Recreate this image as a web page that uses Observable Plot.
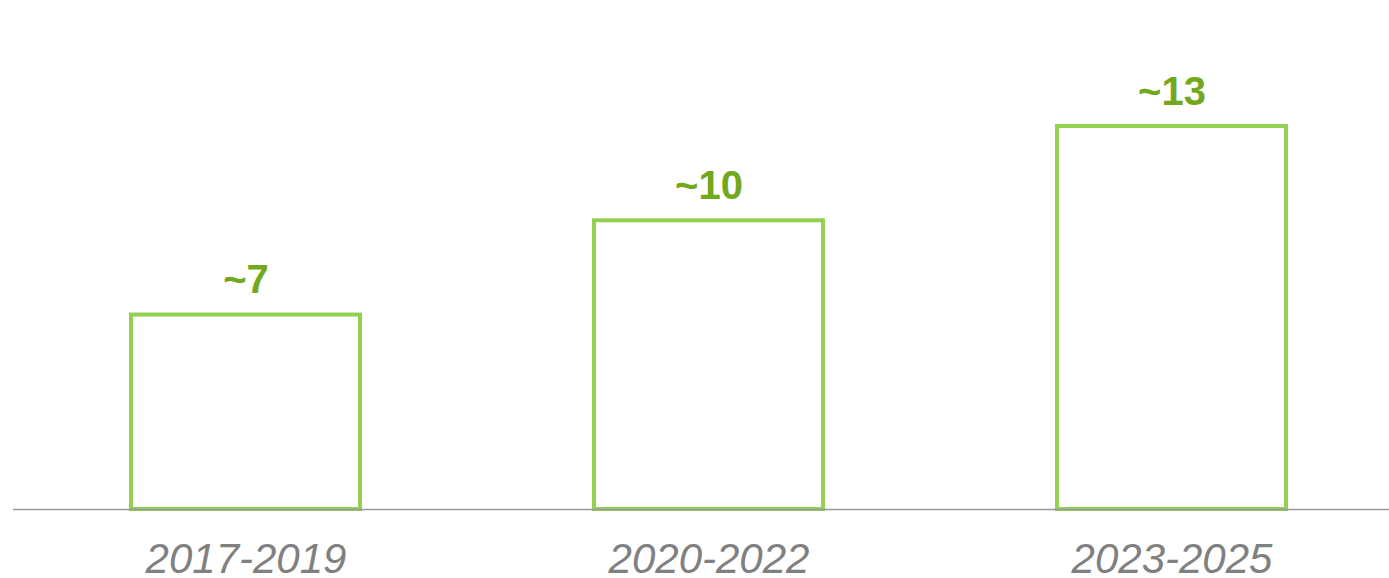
<!DOCTYPE html>
<html>
<head>
<meta charset="utf-8">
<script src="https://cdn.jsdelivr.net/npm/d3@7"></script>
<script src="https://cdn.jsdelivr.net/npm/@observablehq/plot@0.6"></script>
<style>
  html, body { margin: 0; padding: 0; background: #fff; }
  #chart svg { display: block; }
</style>
</head>
<body>
<div id="chart"></div>
<script>
const periods = ["2017-2019", "2020-2022", "2023-2025"];
const values = [6.6, 9.8, 13];
const valueLabels = ["~7", "~10", "~13"];

const data = periods.map((p, i) => ({period: p, value: values[i], label: valueLabels[i]}));

const chart = Plot.plot({
  width: 1389,
  height: 578,
  marginLeft: 13,
  marginRight: 0,
  marginTop: 0,
  marginBottom: 69,
  style: {fontFamily: "'Liberation Sans', Arial, sans-serif", background: "#fff"},
  x: {type: "band", domain: periods, range: [13, 1403.5], paddingInner: 0.506, paddingOuter: 0.253, align: 0.5, axis: null},
  y: {domain: [0, 13], range: [509, 126], axis: null},
  marks: [
    Plot.barY(data, {x: "period", y: "value", fill: "white", stroke: "#92d050", strokeWidth: 4}),
    Plot.ruleY([0], {stroke: "#999999", strokeWidth: 1.5}),
    Plot.text(data, {x: "period", y: "value", text: "label", dy: -22, lineAnchor: "bottom", textAnchor: "middle", fontSize: 40, fontWeight: "bold", fill: "#72a81c"}),
    Plot.axisX({tickSize: 0, tickPadding: 34, fontSize: 42, fontStyle: "italic", fill: "#808080", label: null})
  ]
});
document.getElementById("chart").appendChild(chart);
</script>
</body>
</html>
